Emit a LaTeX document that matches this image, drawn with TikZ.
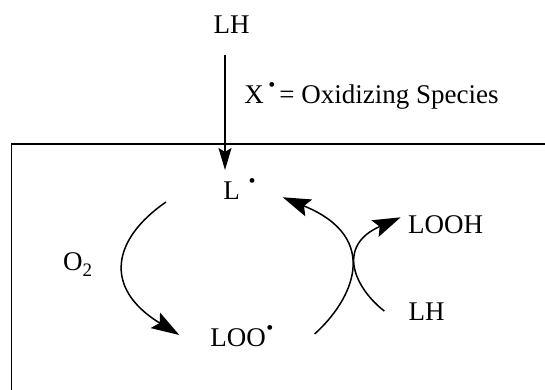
\documentclass[tikz,border=0pt]{standalone}
\usepackage{fontspec}
\setmainfont{Liberation Serif}
\usetikzlibrary{arrows.meta}
\newcommand\raddot[1]{\raisebox{#1}{\fontsize{10}{10}\selectfont\textbullet}}
\begin{document}
\begin{tikzpicture}[x=0.5pt,y=-0.5pt,
  lbl/.style={inner sep=0pt,anchor=base west,font=\fontsize{13.5}{16}\selectfont},
  conn/.style={line width=0.75pt},
  bighead/.style={-{Stealth[length=14pt,width=9pt,inset=2.5pt]}},
  smallhead/.style={-{Stealth[length=11pt,width=6.5pt,inset=2pt]}}]
\useasboundingbox (0,0) rectangle (545,390);
\clip (0,0) rectangle (545,390);
% box
\draw[line width=0.9pt] (560,144) -- (11.5,144) -- (11.5,400);
% labels
\node[lbl] (lhtop) at (213.3,33.3) {LH};
\node[lbl] (xlab) at (244,103.3) {X\kern2.2pt\raddot{5.8pt}\kern2pt= Oxidizing Species};
\node[lbl] (L) at (223,199.3) {L\kern4.4pt\raddot{5.8pt}};
\node[lbl] (LOO) at (210,346.7) {LOO\kern0.3pt\raddot{6.1pt}};
\node[lbl] (LOOH) at (407.7,233.3) {LOOH};
\node[lbl] (LH) at (408.3,320.7) {LH};
\node[lbl] (O2) at (62.7,270) {O\raisebox{-3.35pt}{\fontsize{9.5}{9.5}\selectfont 2}};
% connector ends
\coordinate (vs) at (225,55);
\coordinate (ve) at (225,170);
\coordinate (a1s) at (166,202);
\coordinate (a1e) at (179.3,335);
\coordinate (a2s) at (314.6,334);
\coordinate (a2e) at (282.7,197.3);
\coordinate (a3s) at (384.3,311);
\coordinate (a3e) at (400.7,217.3);
% connectors
\draw[conn,smallhead] (vs) -- (ve);
\draw[conn,bighead] (a1s) .. controls (112.6,238.8) and (102.3,287.9) .. (a1e);
\draw[conn,bighead] (a2s) .. controls (352.4,300.1) and (382.6,237.9) .. (a2e);
\draw[conn,bighead] (a3s) .. controls (355.7,289) and (334.7,246.3) .. (a3e);
\end{tikzpicture}
\end{document}
